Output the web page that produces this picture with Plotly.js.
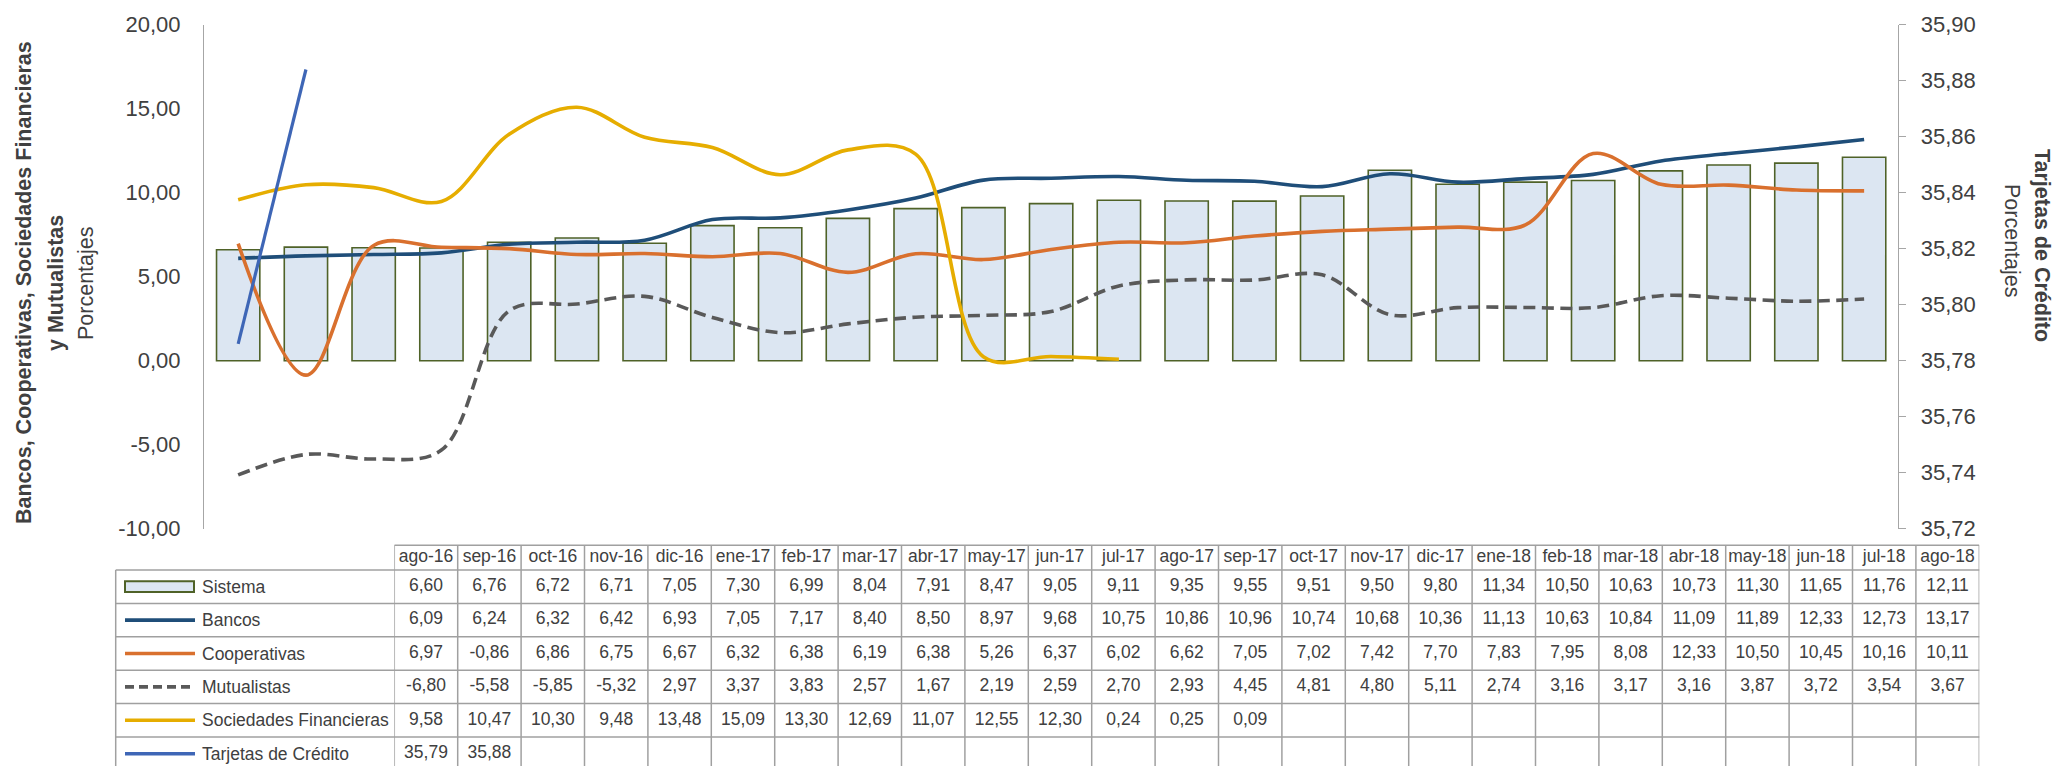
<!DOCTYPE html>
<html>
<head>
<meta charset="utf-8">
<script src="https://cdn.plot.ly/plotly-3.0.1.min.js"></script>
<style>
html, body { margin: 0; padding: 0; background: #ffffff; }
#chart { width: 2054px; height: 766px; }
</style>
</head>
<body>
<div id="chart"></div>
<script>
// ---------------- data ----------------
const months = ['ago-16','sep-16','oct-16','nov-16','dic-16','ene-17','feb-17','mar-17','abr-17','may-17','jun-17','jul-17','ago-17','sep-17','oct-17','nov-17','dic-17','ene-18','feb-18','mar-18','abr-18','may-18','jun-18','jul-18','ago-18'];
const sistema      = [6.60,6.76,6.72,6.71,7.05,7.30,6.99,8.04,7.91,8.47,9.05,9.11,9.35,9.55,9.51,9.50,9.80,11.34,10.50,10.63,10.73,11.30,11.65,11.76,12.11];
const bancos       = [6.09,6.24,6.32,6.42,6.93,7.05,7.17,8.40,8.50,8.97,9.68,10.75,10.86,10.96,10.74,10.68,10.36,11.13,10.63,10.84,11.09,11.89,12.33,12.73,13.17];
const cooperativas = [6.97,-0.86,6.86,6.75,6.67,6.32,6.38,6.19,6.38,5.26,6.37,6.02,6.62,7.05,7.02,7.42,7.70,7.83,7.95,8.08,12.33,10.50,10.45,10.16,10.11];
const mutualistas  = [-6.80,-5.58,-5.85,-5.32,2.97,3.37,3.83,2.57,1.67,2.19,2.59,2.70,2.93,4.45,4.81,4.80,5.11,2.74,3.16,3.17,3.16,3.87,3.72,3.54,3.67];
const sociedades   = [9.58,10.47,10.30,9.48,13.48,15.09,13.30,12.69,11.07,12.55,12.30,0.24,0.25,0.09,null,null,null,null,null,null,null,null,null,null,null];
const tarjetas     = [35.786,35.884,null,null,null,null,null,null,null,null,null,null,null,null,null,null,null,null,null,null,null,null,null,null,null];
const leftTicks  = [-10,-5,0,5,10,15,20];
const rightTicks = [35.72,35.74,35.76,35.78,35.80,35.82,35.84,35.86,35.88,35.90];
const rowLabels = ['Sistema','Bancos','Cooperativas','Mutualistas','Sociedades Financieras','Tarjetas de Crédito'];
const leftTitle  = ['Bancos, Cooperativas, Sociedades Financieras','y Mutualistas','Porcentajes'];
const rightTitle = ['Tarjetas de Crédito','Porcentajes'];

// ---------------- styles / geometry ----------------
const FONT = '"Liberation Sans", Arial, sans-serif';
const TXT = '#404040';
const AXIS = '#A6A6A6';
const GRID = '#A0A0A0';
const W = 2054, H = 766;
const fx = p => p / W;
const fy = p => 1 - p / H;
const PLOT = {x0: 204.3, x1: 1898, y0: 24.7, y1: 528.7};
const TAB = {left: 115.7, colLeft: 394.3, right: 1979.3, headTop: 545.3, rowTop: 570, rowH: 33.4, nRows: 6,
             keyX0: 125, keyX1: 195, labelX: 200};
const rowCoord = p => (p - TAB.rowTop) / TAB.rowH - 0.5;   // pixel -> table row coordinate
const TABLE_FS = 17.5, TICK_FS = 22, TITLE_FS = 21.5;

const styles = {
  'Sistema':                {fill: '#DCE6F2', line: '#4F6228', width: 1.6},
  'Bancos':                 {color: '#1F4E79', width: 3.6},
  'Cooperativas':           {color: '#D9702E', width: 3.6},
  'Mutualistas':            {color: '#595959', width: 3.6, dash: '12px,6.5px'},
  'Sociedades Financieras': {color: '#E6AD00', width: 3.6},
  'Tarjetas de Crédito':    {color: '#3E66B6', width: 3.2}
};
const seriesValues = [sistema, bancos, cooperativas, mutualistas, sociedades, tarjetas];

const fmt = v => v.toFixed(2).replace('.', ',');

// ---------------- chart traces ----------------
const traces = [];
traces.push({
  type: 'bar', name: 'Sistema', x: months, y: sistema, xaxis: 'x', yaxis: 'y',
  marker: {color: styles['Sistema'].fill, line: {color: styles['Sistema'].line, width: styles['Sistema'].width}},
  hoverinfo: 'skip'
});
[['Bancos', bancos, 'y'], ['Cooperativas', cooperativas, 'y'], ['Mutualistas', mutualistas, 'y'],
 ['Sociedades Financieras', sociedades, 'y'], ['Tarjetas de Crédito', tarjetas, 'y2']].forEach(([name, vals, ax]) => {
  const s = styles[name];
  traces.push({
    type: 'scatter', mode: 'lines', name: name, x: months, y: vals, xaxis: 'x', yaxis: ax,
    line: {color: s.color, width: s.width, shape: 'spline', smoothing: 1, dash: s.dash || 'solid'},
    connectgaps: false, hoverinfo: 'skip'
  });
});

// ---------------- data table (text through its own axes) ----------------
const tx = [], ty = [], tt = [];
seriesValues.forEach((vals, i) => {
  vals.forEach((v, j) => {
    if (v !== null && v !== undefined) { tx.push(months[j]); ty.push(i); tt.push(fmt(v)); }
  });
});
traces.push({
  type: 'scatter', mode: 'text', x: tx, y: ty, text: tt, xaxis: 'x3', yaxis: 'y3',
  textposition: 'middle center', textfont: {family: FONT, size: TABLE_FS, color: TXT},
  cliponaxis: false, hoverinfo: 'skip'
});
const headerRow = rowCoord((TAB.headTop + TAB.rowTop) / 2);
traces.push({
  type: 'scatter', mode: 'text', x: months, y: months.map(() => headerRow), text: months,
  xaxis: 'x3', yaxis: 'y3', textposition: 'middle center',
  textfont: {family: FONT, size: TABLE_FS, color: TXT}, cliponaxis: false, hoverinfo: 'skip'
});

// ---------------- shapes: table grid + legend keys ----------------
const shapes = [];
const gridLine = {color: GRID, width: 1.5};
const tableBottom = TAB.rowTop + TAB.nRows * TAB.rowH;
for (let j = 0; j <= months.length; j++) {
  shapes.push({type: 'line', xref: 'x3', yref: 'paper', x0: j - 0.5, x1: j - 0.5,
               y0: fy(TAB.headTop), y1: fy(tableBottom), line: gridLine, layer: 'above'});
}
shapes.push({type: 'line', xref: 'paper', yref: 'paper', x0: fx(TAB.left), x1: fx(TAB.left),
             y0: fy(TAB.rowTop), y1: fy(tableBottom), line: gridLine});
shapes.push({type: 'line', xref: 'x3', yref: 'paper', x0: -0.5, x1: months.length - 0.5,
             y0: fy(TAB.headTop), y1: fy(TAB.headTop), line: gridLine});
for (let k = 0; k <= TAB.nRows; k++) {
  const p = TAB.rowTop + k * TAB.rowH;
  shapes.push({type: 'line', xref: 'paper', yref: 'paper', x0: fx(TAB.left), x1: fx(TAB.right),
               y0: fy(p), y1: fy(p), line: gridLine});
}
rowLabels.forEach((name, i) => {
  const s = styles[name];
  if (s.fill) {
    shapes.push({type: 'rect', xref: 'paper', yref: 'y3', x0: fx(TAB.keyX0), x1: fx(TAB.keyX1 - 1),
                 y0: i - 0.16, y1: i + 0.16, fillcolor: s.fill, line: {color: s.line, width: 2}});
  } else {
    shapes.push({type: 'line', xref: 'paper', yref: 'y3', x0: fx(TAB.keyX0), x1: fx(TAB.keyX1),
                 y0: i, y1: i, line: {color: s.color, width: 3.6, dash: s.dash ? '9px,5px' : 'solid'}});
  }
});

// ---------------- annotations: row labels and axis titles ----------------
const annotations = [];
rowLabels.forEach((name, i) => {
  annotations.push({xref: 'paper', yref: 'y3', x: fx(TAB.labelX), y: i, xanchor: 'left', yanchor: 'middle',
                    text: name, showarrow: false, font: {family: FONT, size: TABLE_FS, color: TXT}});
});
const leftTitleX = [24, 56, 86];
leftTitle.forEach((t, i) => {
  annotations.push({xref: 'paper', yref: 'paper', x: fx(leftTitleX[i]), y: fy(283), textangle: -90,
                    xanchor: 'center', yanchor: 'middle', showarrow: false,
                    text: i < 2 ? '<b>' + t + '</b>' : t, font: {family: FONT, size: TITLE_FS, color: TXT}});
});
const rightTitleX = [2042, 2012];
const rightTitleY = [245, 241];
rightTitle.forEach((t, i) => {
  annotations.push({xref: 'paper', yref: 'paper', x: fx(rightTitleX[i]), y: fy(rightTitleY[i]), textangle: 90,
                    xanchor: 'center', yanchor: 'middle', showarrow: false,
                    text: i === 0 ? '<b>' + t + '</b>' : t, font: {family: FONT, size: TITLE_FS, color: TXT}});
});

// ---------------- layout ----------------
const tickFont = {family: FONT, size: TICK_FS, color: TXT};
const layout = {
  width: W, height: H,
  margin: {l: 0, r: 0, t: 0, b: 0, pad: 0},
  paper_bgcolor: '#ffffff', plot_bgcolor: 'rgba(0,0,0,0)',
  showlegend: false, hovermode: false,
  separators: ',.',
  bargap: 0.361,
  font: {family: FONT, color: TXT},
  xaxis: {domain: [fx(PLOT.x0), fx(PLOT.x1)], type: 'category', categoryorder: 'array', categoryarray: months,
          range: [-0.5, months.length - 0.5], anchor: 'y', visible: false, fixedrange: true},
  yaxis: {domain: [fy(PLOT.y1), fy(PLOT.y0)], range: [-10, 20], tickmode: 'array', tickvals: leftTicks,
          ticktext: leftTicks.map(fmt), showline: true, linecolor: AXIS, linewidth: 1.3, ticks: '',
          showgrid: false, zeroline: false, tickfont: tickFont, ticklabelstandoff: 18, anchor: 'x', fixedrange: true},
  yaxis2: {overlaying: 'y', side: 'right', anchor: 'x', range: [35.72, 35.90], tickmode: 'array', tickvals: rightTicks,
           ticktext: rightTicks.map(fmt), showline: true, linecolor: AXIS, linewidth: 1.3, ticks: 'outside', ticklen: 7,
           tickcolor: AXIS, tickwidth: 1.3, showgrid: false, zeroline: false, tickfont: tickFont,
           ticklabelstandoff: 10, fixedrange: true},
  xaxis3: {domain: [fx(TAB.colLeft), fx(TAB.right)], type: 'category', categoryorder: 'array', categoryarray: months,
           range: [-0.5, months.length - 0.5], anchor: 'y3', visible: false, fixedrange: true},
  yaxis3: {domain: [0, fy(TAB.headTop)], range: [rowCoord(H), rowCoord(TAB.headTop)], anchor: 'x3',
           visible: false, fixedrange: true},
  shapes: shapes,
  annotations: annotations
};

Plotly.newPlot('chart', traces, layout, {staticPlot: true, displayModeBar: false});
</script>
</body>
</html>
